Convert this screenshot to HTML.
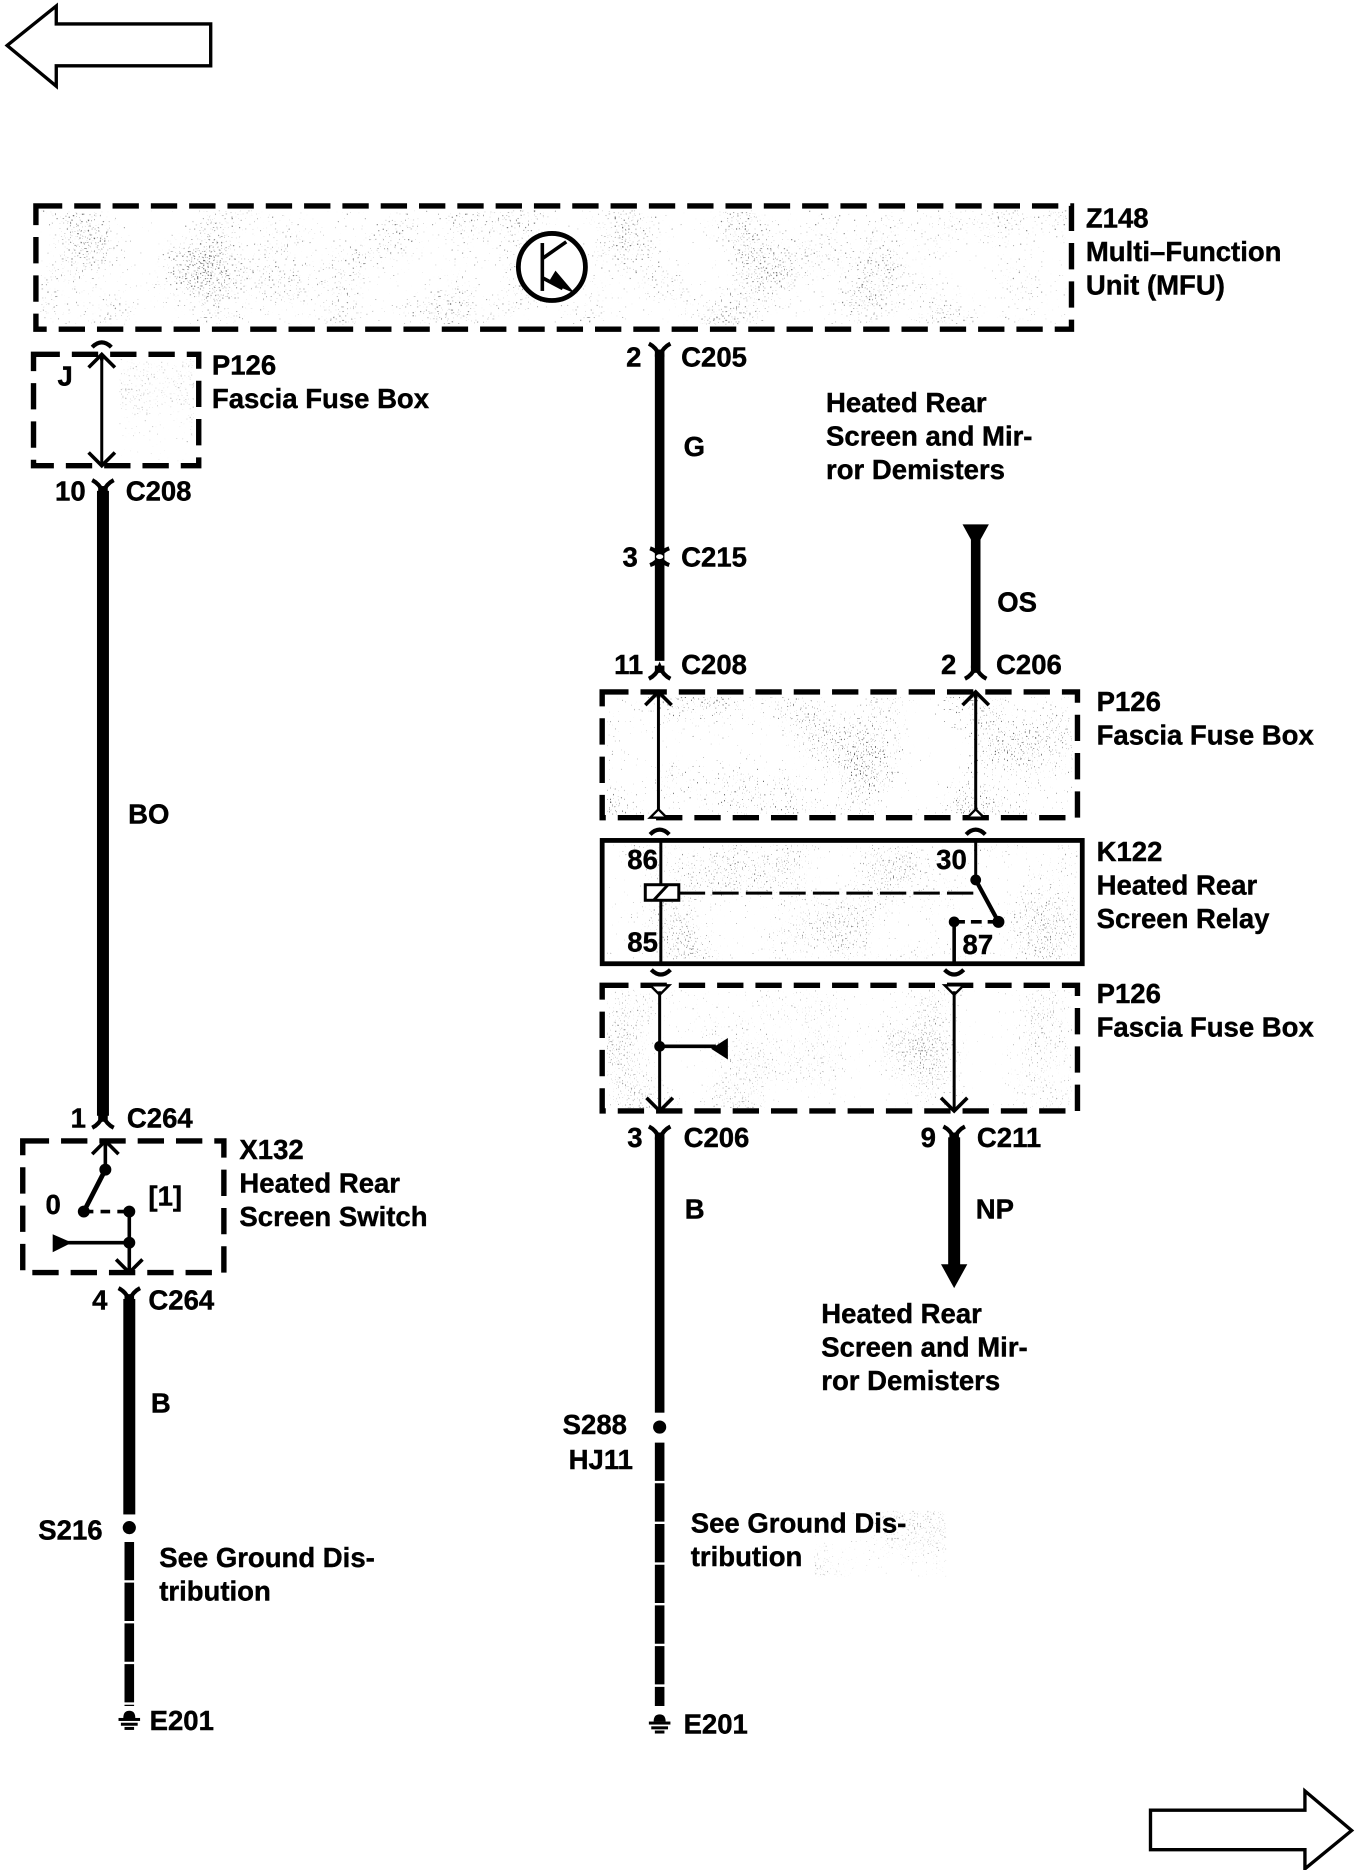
<!DOCTYPE html>
<html><head><meta charset="utf-8"><title>Heated Rear Screen Diagram</title>
<style>
html,body{margin:0;padding:0;background:#fff}
svg{display:block}
text{font-family:"Liberation Sans",sans-serif;font-weight:bold;font-size:23px;fill:#000;stroke:#000;stroke-width:.35;dominant-baseline:alphabetic}
.d{fill:none;stroke:#000;stroke-width:4.5;stroke-dasharray:22 10}
.t{fill:none;stroke:#000;stroke-width:2.5}
.m{fill:none;stroke:#000;stroke-width:3}
.w{fill:none;stroke:#000;stroke-width:8}
</style></head><body>
<svg xmlns="http://www.w3.org/2000/svg" width="1360" height="1870" viewBox="0 0 1136 1562">
<defs>
<filter id="sp" x="0" y="0" width="1" height="1" color-interpolation-filters="sRGB">
<feTurbulence type="fractalNoise" baseFrequency="0.8" numOctaves="1" seed="4" result="n"/>
<feTurbulence type="fractalNoise" baseFrequency="0.02" numOctaves="1" seed="9" result="l"/>
<feComposite in="n" in2="l" operator="arithmetic" k2="0.78" k3="0.22" result="c"/>
<feComponentTransfer in="c" result="a"><feFuncA type="linear" slope="25" intercept="-16.6"/></feComponentTransfer>
<feFlood flood-color="#000"/>
<feComposite in2="a" operator="in"/>
</filter>
<g id="yt"><path d="M-9 -1 Q-3 2 0 9 Q3 2 9 -1" fill="none" stroke="#000" stroke-width="3.5"/><rect x="-4" y="4" width="8" height="6"/></g>
<g id="yb"><path d="M-9 1 Q-3 -2 0 -9 Q3 -2 9 1" fill="none" stroke="#000" stroke-width="3.5"/><rect x="-4" y="-10" width="8" height="6"/></g>
<path id="up" d="M-11 11 L0 0 L11 11 M0 0 V5" fill="none" stroke="#000" stroke-width="3"/>
<path id="dn" d="M-11 -11 L0 0 L11 -11" fill="none" stroke="#000" stroke-width="3"/>
<path id="arcu" d="M-8 5 Q0 -3 8 5" fill="none" stroke="#000" stroke-width="3.5"/>
<path id="arcd" d="M-8 -5 Q0 3 8 -5" fill="none" stroke="#000" stroke-width="3.5"/>
<g id="gnd"><path d="M-5 -2 Q-5 -8 0 -8 Q5 -8 5 -2Z"/><rect x="-9" y="-2" width="18" height="2.5"/><rect x="-7" y="2" width="14" height="2.5"/><rect x="-4" y="5.5" width="8" height="2.5"/></g>
</defs>
<rect width="1136" height="1562" fill="#fff"/>

<!-- speckle -->
<g opacity=".75">
<rect x="34" y="176" width="857" height="95" filter="url(#sp)"/>
<rect x="100" y="300" width="62" height="85" filter="url(#sp)" opacity=".5"/>
<rect x="507" y="582" width="389" height="98" filter="url(#sp)"/>
<rect x="507" y="706" width="393" height="95" filter="url(#sp)" opacity=".8"/>
<rect x="507" y="827" width="389" height="98" filter="url(#sp)" opacity=".6"/>
<rect x="680" y="1262" width="110" height="55" filter="url(#sp)" opacity=".5"/>
</g>

<!-- big arrows -->
<path d="M6 38 L47 5 V20 H176 V55 H47 V72Z" fill="none" stroke="#000" stroke-width="2.8"/>
<path d="M961 1512 H1090 V1496 L1129 1529 L1090 1561 V1545 H961Z" fill="none" stroke="#000" stroke-width="2.8"/>

<!-- Z148 -->
<rect class="d" x="30" y="172" width="865" height="103"/>
<circle cx="461" cy="223" r="28" fill="#fff" stroke="#000" stroke-width="4"/>
<path d="M453 203 V243" class="m"/>
<path d="M453 216 L473 202" class="m"/>
<path d="M453 232 L470 241" class="m"/>
<path d="M458 236 L464 226 L480 245Z"/>
<text x="907" y="190">Z148</text>
<text x="907" y="218">Multi–Function</text>
<text x="907" y="246">Unit (MFU)</text>

<!-- P126 left -->
<rect class="d" x="28" y="296" width="138" height="93"/>
<use href="#arcu" x="85" y="285"/>
<path d="M85 296 V389" class="t"/>
<use href="#up" x="85" y="296"/>
<use href="#dn" x="85" y="389"/>
<text x="48" y="322">J</text>
<text x="177" y="313">P126</text>
<text x="177" y="341">Fascia Fuse Box</text>

<!-- left wire BO -->
<use href="#yt" x="86" y="402"/>
<rect x="81" y="410" width="10" height="522"/>
<use href="#yb" x="86" y="941"/>
<text x="46" y="418">10</text>
<text x="105" y="418">C208</text>
<text x="107" y="688">BO</text>
<text x="59" y="942">1</text>
<text x="106" y="942">C264</text>

<!-- X132 -->
<rect class="d" x="19" y="953" width="168" height="110"/>
<use href="#up" x="88" y="953"/>
<path d="M88 953 V977" class="m"/>
<path d="M88 977 L70 1012" fill="none" stroke="#000" stroke-width="4"/>
<circle cx="88" cy="977" r="5"/><circle cx="70" cy="1012" r="5"/>
<path d="M70 1012 H108" class="m" stroke-dasharray="8 6"/>
<circle cx="108" cy="1012" r="5"/><circle cx="108" cy="1038" r="5"/>
<path d="M108 1012 V1063 M55 1038 H108" class="m"/>
<path d="M44 1031 L60 1038 L44 1046Z"/>
<use href="#dn" x="108" y="1063"/>
<text x="38" y="1014">0</text>
<text x="124" y="1007">[1]</text>
<text x="200" y="968">X132</text>
<text x="200" y="996">Heated Rear</text>
<text x="200" y="1024">Screen Switch</text>

<!-- lower left -->
<use href="#yt" x="108" y="1077"/>
<rect x="103" y="1085" width="10" height="180"/>
<circle cx="108" cy="1276" r="5.5"/>
<path d="M108 1288 V1425" class="w" stroke-dasharray="32 2"/>
<use href="#gnd" x="108" y="1437"/>
<text x="77" y="1094">4</text>
<text x="124" y="1094">C264</text>
<text x="126" y="1180">B</text>
<text x="32" y="1286">S216</text>
<text x="133" y="1309">See Ground Dis-</text>
<text x="133" y="1337">tribution</text>
<text x="125" y="1445">E201</text>

<!-- G wire -->
<use href="#yt" x="551" y="288"/>
<rect x="547" y="296" width="8" height="256"/>
<use href="#yb" x="551" y="566"/>
<path d="M543 458 Q549 460 551 465 Q553 460 559 458 M543 472 Q549 470 551 465 Q553 470 559 472" fill="none" stroke="#000" stroke-width="3.5"/>
<ellipse cx="551" cy="465" rx="3" ry="2" fill="#fff"/>
<text x="523" y="306">2</text>
<text x="569" y="306">C205</text>
<text x="571" y="381">G</text>
<text x="690" y="344">Heated Rear</text>
<text x="690" y="372">Screen and Mir-</text>
<text x="690" y="400">ror Demisters</text>
<text x="520" y="473">3</text>
<text x="569" y="473">C215</text>
<text x="513" y="563">11</text>
<text x="569" y="563">C208</text>

<!-- OS wire -->
<path d="M804 438 H826 L815 458Z"/>
<rect x="811" y="450" width="8" height="108"/>
<use href="#yb" x="815" y="566"/>
<text x="833" y="511">OS</text>
<text x="786" y="563">2</text>
<text x="832" y="563">C206</text>

<!-- P126 mid -->
<rect class="d" x="503" y="578" width="397" height="105"/>
<path d="M550 578 V678 M815 578 V678" class="t"/>
<use href="#up" x="550" y="578"/><use href="#up" x="815" y="578"/>
<path d="M543 683 L550 676 L557 683Z M808 683 L815 676 L822 683Z" fill="#fff" stroke="#000" stroke-width="2"/>
<text x="916" y="594">P126</text>
<text x="916" y="622">Fascia Fuse Box</text>

<!-- K122 -->
<use href="#arcu" x="551" y="692"/><use href="#arcu" x="815" y="692"/>
<rect x="503" y="702" width="401" height="103" fill="none" stroke="#000" stroke-width="4"/>
<path d="M552 702 V805 M815 702 V735" class="t"/>
<rect x="539" y="739" width="28" height="13" fill="#fff" stroke="#000" stroke-width="2.5"/>
<path d="M546 752 L558 739" class="t"/>
<path d="M567 746 H815" class="t" stroke-dasharray="22 6"/>
<path d="M815 735 L834 770" fill="none" stroke="#000" stroke-width="3.5"/>
<circle cx="815" cy="735" r="4.5"/><circle cx="834" cy="770" r="5"/><circle cx="797" cy="770" r="4.5"/>
<path d="M834 770 H797" class="m" stroke-dasharray="9 5"/>
<path d="M797 770 V805" class="m"/>
<text x="524" y="726">86</text>
<text x="782" y="726">30</text>
<text x="524" y="795">85</text>
<text x="804" y="797">87</text>
<text x="916" y="719">K122</text>
<text x="916" y="747">Heated Rear</text>
<text x="916" y="775">Screen Relay</text>

<!-- P126 lower -->
<use href="#arcd" x="552" y="815"/><use href="#arcd" x="797" y="815"/>
<rect class="d" x="503" y="823" width="397" height="105"/>
<path d="M543 823 L551 831 L559 823Z M789 823 L797 831 L805 823Z" fill="#fff" stroke="#000" stroke-width="2"/>
<path d="M551 828 V928 M797 828 V928" class="t"/>
<use href="#dn" x="551" y="928"/><use href="#dn" x="797" y="928"/>
<circle cx="551" cy="874" r="4.5"/>
<path d="M551 874 H598" class="m"/>
<path d="M608 867 V885 L594 876Z"/>
<text x="916" y="838">P126</text>
<text x="916" y="866">Fascia Fuse Box</text>

<!-- lower centre -->
<use href="#yt" x="551" y="942"/>
<rect x="547" y="950" width="8" height="230"/>
<circle cx="551" cy="1192" r="5.5"/>
<path d="M551 1205 V1425" class="w" stroke-dasharray="32 2"/>
<use href="#gnd" x="551" y="1440"/>
<text x="524" y="958">3</text>
<text x="571" y="958">C206</text>
<text x="572" y="1018">B</text>
<text x="470" y="1198">S288</text>
<text x="475" y="1227">HJ11</text>
<text x="577" y="1280">See Ground Dis-</text>
<text x="577" y="1308">tribution</text>
<text x="571" y="1448">E201</text>

<!-- NP -->
<use href="#yt" x="797" y="942"/>
<rect x="792" y="950" width="10" height="108"/>
<path d="M786 1056 H808 L797 1076Z"/>
<text x="769" y="958">9</text>
<text x="816" y="958">C211</text>
<text x="815" y="1018">NP</text>
<text x="686" y="1105">Heated Rear</text>
<text x="686" y="1133">Screen and Mir-</text>
<text x="686" y="1161">ror Demisters</text>
</svg>
</body></html>
